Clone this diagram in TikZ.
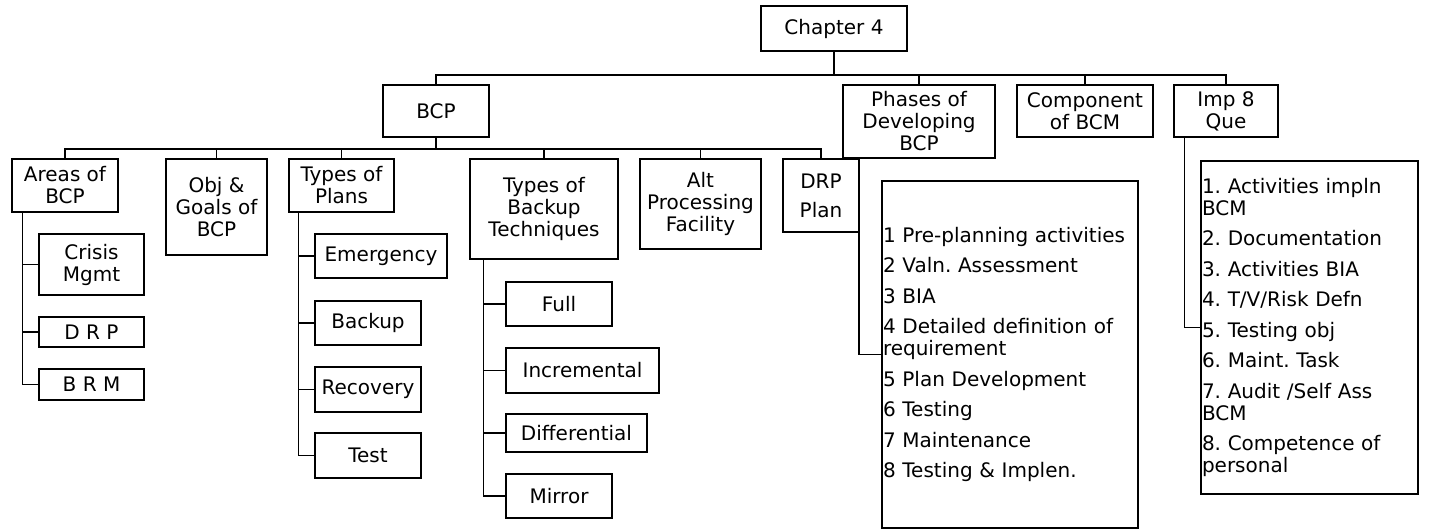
\documentclass[tikz,border=0pt]{standalone}
\usepackage{fontspec}
\setmainfont{DejaVu Sans}
\usepackage{tikz}
\usetikzlibrary{positioning}
\frenchspacing

\begin{document}
\begin{tikzpicture}[x=1pt,y=-1pt,line width=1.5pt,
                    font=\fontsize{20}{22}\selectfont,
                    bus/.style={to path={-- ++(0,#1) -| (\tikztotarget)}},
                    side/.style={to path={|- (\tikztotarget)}}]
  \tikzstyle{box}=[draw,align=center,inner sep=2pt]
  \tikzstyle{list}=[draw,align=left,inner xsep=1pt,inner ysep=0pt]

  \useasboundingbox (0,0) rectangle (1431,530);

  \node[box,minimum width=146,minimum height=45] (ch4) at (834,28.5) {Chapter 4};

  \node[box,minimum width=106,minimum height=52] (bcp) at (436,111) {BCP};
  \node[box,minimum width=152,minimum height=73] (phase) at (919,121.5) {Phases of\\Developing\\BCP};
  \node[box,minimum width=136,minimum height=52] (comp) at (1085,111) {Component\\of BCM};
  \node[box,minimum width=104,minimum height=52] (imp) at (1226,111) {Imp 8\\Que};

  \node[box,minimum width=106,minimum height=53] (areas) at (65,185.5) {Areas of\\BCP};
  \node[box,minimum width=101,minimum height=96] (goals) at (216.5,207) {Obj \&\\Goals of\\BCP};
  \node[box,minimum width=105,minimum height=53] (plans) at (341.5,185.5) {Types of\\Plans};
  \node[box,minimum width=148,minimum height=100] (backup) at (544,209) {Types of\\Backup\\Techniques};
  \node[box,minimum width=121,minimum height=90] (alt) at (700.5,204) {Alt\\Processing\\Facility};
  \node[box,minimum width=76,minimum height=73] (drp) at (821,195.5) {DRP\\[7pt]Plan};

  \node[box,minimum width=105,minimum height=61] (crisis) at (91.5,264.5) {Crisis\\Mgmt};
  \node[box,minimum width=105,minimum height=30] (drparea) at (91.5,332) {D R P};
  \node[box,minimum width=105,minimum height=31] (brm) at (91.5,384.5) {B R M};

  \node[box,minimum width=132,minimum height=44] (emerg) at (381,256) {Emergency};
  \node[box,minimum width=106,minimum height=44] (bkplan) at (368,323) {Backup};
  \node[box,minimum width=106,minimum height=45] (recov) at (368,389.5) {Recovery};
  \node[box,minimum width=106,minimum height=45] (test) at (368,455.5) {Test};

  \node[box,minimum width=106,minimum height=44] (full) at (559,304) {Full};
  \node[box,minimum width=153,minimum height=45] (incr) at (582.5,370.5) {Incremental};
  \node[box,minimum width=141,minimum height=38] (diff) at (576.5,433) {Differential};
  \node[box,minimum width=106,minimum height=44] (mirror) at (559,496) {Mirror};

  \node[list,text width=254,minimum height=347] (phaselist) at (1010,354.5)
    {1 Pre-planning activities\\[8.5pt]
     2 Valn. Assessment\\[8.5pt]
     3 BIA\\[8.5pt]
     4 Detailed definition of\\requirement\\[8.5pt]
     5 Plan Development\\[8.5pt]
     6 Testing\\[8.5pt]
     7 Maintenance\\[8.5pt]
     8 Testing \& Implen.};
  \node[list,text width=215,minimum height=333] (implist) at (1309.5,327.5)
    {1. Activities impln\\BCM\\[8.5pt]
     2. Documentation\\[8.5pt]
     3. Activities BIA\\[8.5pt]
     4. T/V/Risk Defn\\[8.5pt]
     5. Testing obj\\[8.5pt]
     6. Maint. Task\\[8.5pt]
     7. Audit /Self Ass\\BCM\\[8.5pt]
     8. Competence of\\personal};

  % top level
  \foreach \c in {bcp,phase,comp,imp}
    \path (ch4.south) edge[bus=23] (\c.north);
  % BCP level
  \foreach \c in {areas,goals,plans,backup,alt,drp}
    \path (bcp.south) edge[bus=11] (\c.north);
  % side branches
  \foreach \c in {crisis,drparea,brm}
    \path ([xshift=11]areas.south west) edge[side] (\c.west);
  \foreach \c in {emerg,bkplan,recov,test}
    \path ([xshift=10]plans.south west) edge[side] (\c.west);
  \foreach \c in {full,incr,diff,mirror}
    \path ([xshift=14]backup.south west) edge[side] (\c.west);
  \path ([xshift=-1]drp.south east) edge[side] (phaselist.west)
        ([xshift=11]imp.south west) edge[side] (implist.west);
\end{tikzpicture}
\end{document}
